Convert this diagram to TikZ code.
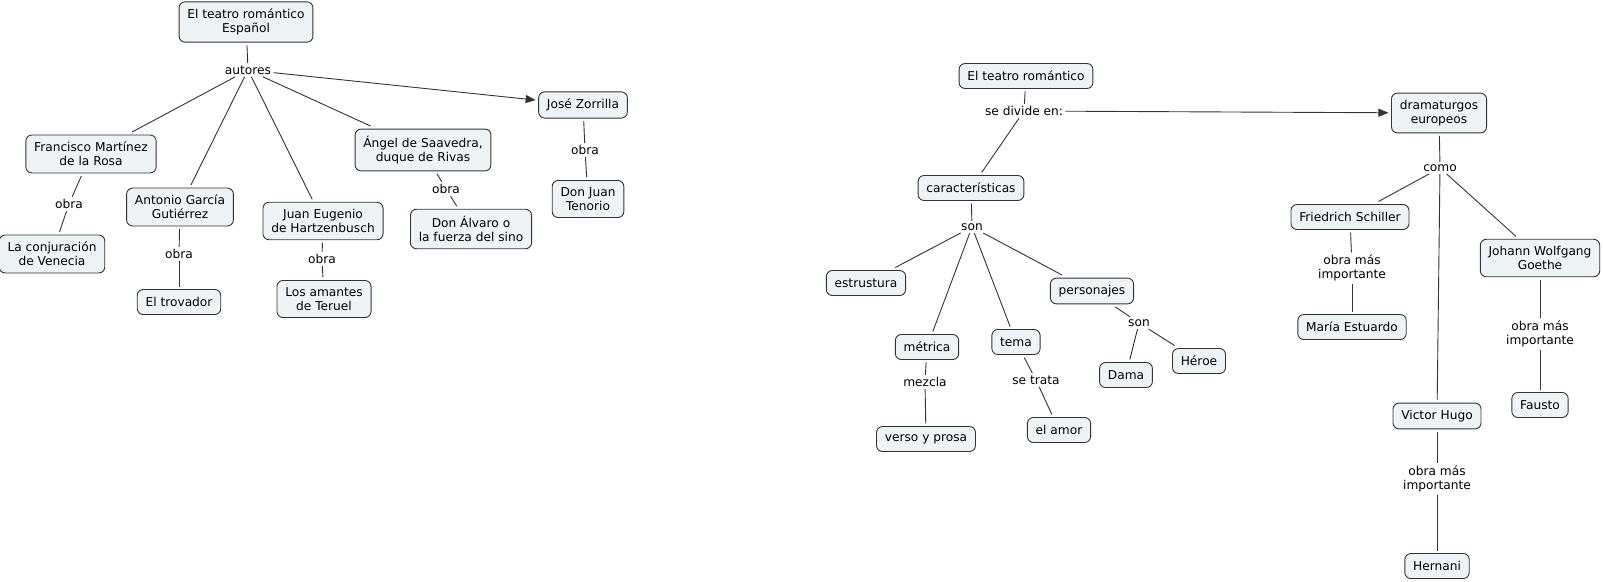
\documentclass[tikz,border=0pt]{standalone}
\usepackage{fontspec}
\setmainfont{DejaVu Sans}
\usetikzlibrary{arrows.meta}
\definecolor{cfill}{HTML}{EEF3F6}
\definecolor{cline}{HTML}{333333}
\tikzset{
  concept/.style={draw=cline, line width=0.9pt, fill=cfill, rounded corners=6pt,
    align=center, inner xsep=8.3pt, inner ysep=7pt, minimum height=25pt, outer sep=3pt,
    font=\fontsize{12.2}{14}\selectfont},
  phrase/.style={align=center, inner sep=1pt, outer sep=1.5pt,
    font=\fontsize{12.2}{14}\selectfont},
  link/.style={draw=cline, line width=0.9pt},
  arrowlink/.style={link, -{Triangle[length=10pt,width=8pt]}}
}
\begin{document}
\begin{tikzpicture}[x=1pt,y=-1pt]
\useasboundingbox (0,0) rectangle (1603,581);
% ---------- left map ----------
\node[concept] (trs) at (246,22) {El teatro romántico\\Español};
\node[phrase] (autores) at (248,70) {autores};
\node[concept] (zor) at (583,105) {José Zorrilla};
\node[concept] (fmr) at (91,154) {Francisco Martínez\\de la Rosa};
\node[concept] (agg) at (180,207) {Antonio García\\Gutiérrez};
\node[concept] (jeh) at (323,221) {Juan Eugenio\\de Hartzenbusch};
\node[concept] (ads) at (423,150) {Ángel de Saavedra,\\duque de Rivas};
\node[concept] (lcv) at (52,254) {La conjuración\\de Venecia};
\node[phrase] (o1) at (69,204) {obra};
\node[concept] (etr) at (179,302) {El trovador};
\node[phrase] (o2) at (179,254) {obra};
\node[concept] (lat) at (324,299) {Los amantes\\de Teruel};
\node[phrase] (o3) at (322,259) {obra};
\node[concept] (dal) at (471,229) {Don Álvaro o\\la fuerza del sino};
\node[phrase] (o4) at (446,189) {obra};
\node[concept] (djt) at (588,199) {Don Juan\\Tenorio};
\node[phrase] (o5) at (585,150) {obra};

\draw[link] (trs) -- (autores);
\draw[arrowlink] (autores) -- (zor);
\draw[link] (autores) -- (fmr);
\draw[link] (autores) -- (agg);
\draw[link] (autores) -- (jeh);
\draw[link] (autores) -- (ads);
\draw[link] (fmr) -- (o1);
\draw[link] (o1) -- (lcv);
\draw[link] (agg) -- (o2);
\draw[link] (o2) -- (etr);
\draw[link] (jeh) -- (o3);
\draw[link] (o3) -- (lat);
\draw[link] (ads) -- (o4);
\draw[link] (o4) -- (dal);
\draw[link] (zor) -- (o5);
\draw[link] (o5) -- (djt);

% ---------- right map ----------
\node[concept] (tr) at (1026,76) {El teatro romántico};
\node[phrase] (sde) at (1024,111) {se divide en:};
\node[concept] (car) at (971,188) {características};
\node[phrase] (son) at (972,227) {son};
\node[concept] (est) at (866,283) {estrustura};
\node[concept] (per) at (1092,291) {personajes};
\node[concept] (met) at (927,347) {métrica};
\node[concept] (tema) at (1016,342) {tema};
\node[phrase] (son2) at (1139,323) {son};
\node[concept] (dama) at (1126,375) {Dama};
\node[concept] (heroe) at (1199,361) {Héroe};
\node[phrase] (mez) at (925,382) {mezcla};
\node[concept] (vyp) at (926,439) {verso y prosa};
\node[phrase] (st) at (1036,380) {se trata};
\node[concept] (amor) at (1059,430) {el amor};

\node[concept] (dram) at (1439,113) {dramaturgos\\europeos};
\node[phrase] (como) at (1440,168) {como};
\node[concept] (fs) at (1350,217) {Friedrich Schiller};
\node[concept] (jwg) at (1540,258) {Johann Wolfgang\\Goethe};
\node[concept] (vh) at (1437,416) {Victor Hugo};
\node[phrase] (omi1) at (1352,268) {obra más\\importante};
\node[concept] (me) at (1352,327) {María Estuardo};
\node[phrase] (omi2) at (1540,334) {obra más\\importante};
\node[concept] (fau) at (1540,405) {Fausto};
\node[phrase] (omi3) at (1437,479) {obra más\\importante};
\node[concept] (her) at (1437,566) {Hernani};

\draw[link] (tr) -- (sde);
\draw[arrowlink] (sde) -- (dram);
\draw[link] (sde) -- (car);
\draw[link] (car) -- (son);
\draw[link] (son) -- (est);
\draw[link] (son) -- (per);
\draw[link] (son) -- (met);
\draw[link] (son) -- (tema);
\draw[link] (per) -- (son2);
\draw[link] (son2) -- (dama);
\draw[link] (son2) -- (heroe);
\draw[link] (met) -- (mez);
\draw[link] (mez) -- (vyp);
\draw[link] (tema) -- (st);
\draw[link] (st) -- (amor);

\draw[link] (dram) -- (como);
\draw[link] (como) -- (fs);
\draw[link] (como) -- (jwg);
\draw[link] (como) -- (vh);
\draw[link] (fs) -- (omi1);
\draw[link] (omi1) -- (me);
\draw[link] (jwg) -- (omi2);
\draw[link] (omi2) -- (fau);
\draw[link] (vh) -- (omi3);
\draw[link] (omi3) -- (her);
\end{tikzpicture}
\end{document}
